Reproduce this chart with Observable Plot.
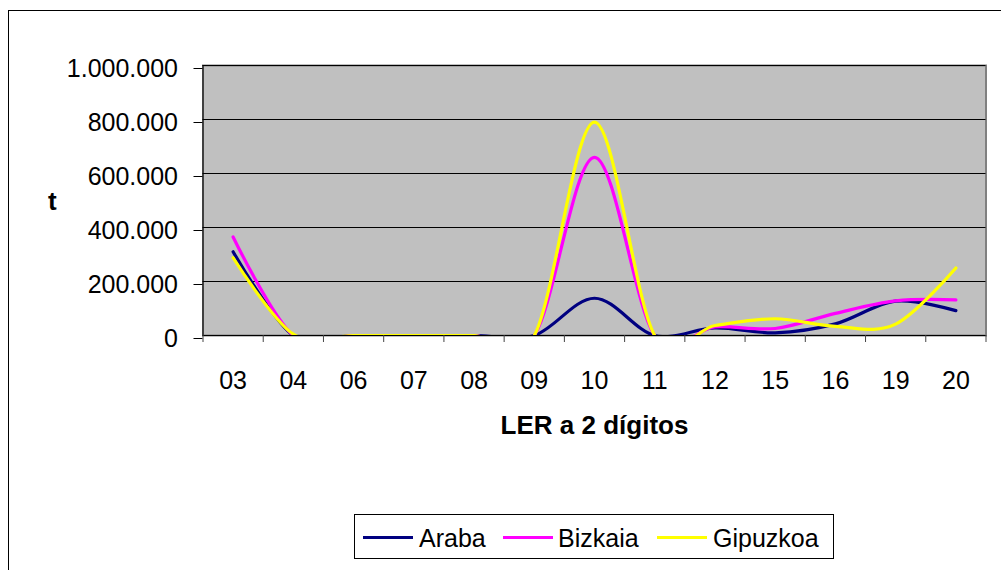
<!DOCTYPE html>
<html>
<head>
<meta charset="utf-8">
<script src="https://cdn.jsdelivr.net/npm/d3@7"></script>
<script src="https://cdn.jsdelivr.net/npm/@observablehq/plot@0.6"></script>
<style>
  html, body { margin: 0; padding: 0; background: #fff; }
  #wrap { position: relative; width: 1001px; height: 570px; overflow: hidden; font-family: "Liberation Sans", Arial, sans-serif; }
  #border { position: absolute; left: 8px; top: 10px; width: 1100px; height: 700px; border: 1px solid #000; box-sizing: border-box; }
  #chart { position: absolute; left: 0; top: 0; }
  #legend { position: absolute; left: 354px; top: 514px; width: 480px; height: 45px; border: 1px solid #000; box-sizing: border-box; background: #fff; }
  .lg-line { position: absolute; height: 3px; width: 50px; top: 536px; }
  .lg-text { position: absolute; top: 526px; font-size: 25px; line-height: 25px; color: #000; white-space: nowrap; }
</style>
</head>
<body>
<div id="wrap">
  <div id="border"></div>
  <div id="chart"></div>
  <div id="legend"></div>
</div>
<script>
const categories = ["03","04","06","07","08","09","10","11","12","15","16","19","20"];
const seriesNames = ["Araba","Bizkaia","Gipuzkoa"];
const araba    = [310000, 0,    0, 0, 0, 0, 138000, 0, 28000, 10000, 43000, 127000,  92000];
const bizkaia  = [365000, 0,    0, 0, 0, 0, 660000, 0, 32000, 26000, 82000, 128000, 132000];
const gipuzkoa = [288000, 5000, 0, 0, 0, 0, 790000, 0, 37000, 62000, 34000,  42000, 250000];
const seriesColors = ["#000080", "#FF00FF", "#FFFF00"];
const yTicks = [0, 200000, 400000, 600000, 800000, 1000000];
const xTitle = "LER a 2 dígitos";
const yTitle = "t";

const rows = [];
[araba, bizkaia, gipuzkoa].forEach((vals, s) =>
  vals.forEach((v, i) => rows.push({i, v, s: seriesNames[s]})));

const fmt = d3.formatLocale({decimal: ",", thousands: ".", grouping: [3], currency: ["", ""]}).format(",d");
const idx = categories.map((_, i) => i);
const bounds = d3.range(-0.5, categories.length + 0.5, 1);

const chart = Plot.plot({
  width: 1001,
  height: 570,
  marginLeft: 202.5,
  marginRight: 15.5,
  marginTop: 65,
  marginBottom: 235,
  style: {background: "none", fontFamily: "'Liberation Sans', Arial, sans-serif", fontSize: "25px", color: "#000", overflow: "visible"},
  x: {type: "linear", domain: [-0.5, categories.length - 0.5]},
  y: {domain: [0, 1000000]},
  color: {domain: seriesNames, range: seriesColors},
  marks: [
    Plot.frame({fill: "#C0C0C0", stroke: "#808080", strokeWidth: 2}),
    Plot.gridY(yTicks, {stroke: "#000", strokeOpacity: 1}),
    Plot.lineY(rows, {x: "i", y: "v", z: "s", stroke: "s", strokeWidth: 3.2, curve: "cardinal", tension: 0, clip: true}),
    Plot.ruleX([-0.5], {stroke: "#000"}),
    Plot.ruleY([0], {stroke: "#000"}),
    Plot.axisY(yTicks, {tickFormat: fmt, tickSize: 9, tickPadding: 16, label: null, fontSize: 25, dy: 3}),
    Plot.axisX(bounds, {tickFormat: () => "", tickSize: 7, label: null, stroke: "#444"}),
    Plot.axisX(idx, {tickFormat: i => categories[i], tickSize: 0, tickPadding: 36, label: null, fontSize: 25}),
    Plot.text([xTitle], {frameAnchor: "bottom", dy: 98, fontWeight: "bold", fontSize: 26}),
    Plot.text([yTitle], {frameAnchor: "left", dx: -155, dy: 1, fontWeight: "bold", fontSize: 26})
  ]
});
document.getElementById("chart").appendChild(chart);

// legend
const wrap = document.getElementById("wrap");
const lineLefts = [363, 503, 657];
const textLefts = [419, 558, 713];
seriesNames.forEach((name, k) => {
  const ln = document.createElement("div");
  ln.className = "lg-line";
  ln.style.left = lineLefts[k] + "px";
  ln.style.background = seriesColors[k];
  wrap.appendChild(ln);
  const tx = document.createElement("div");
  tx.className = "lg-text";
  tx.style.left = textLefts[k] + "px";
  tx.textContent = name;
  wrap.appendChild(tx);
});
</script>
</body>
</html>
